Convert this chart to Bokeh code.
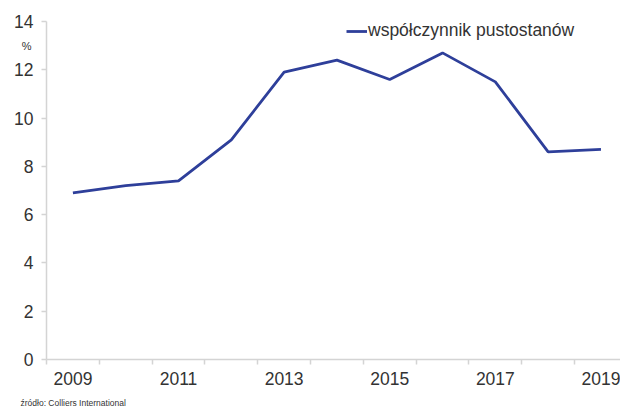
from bokeh.plotting import figure
from bokeh.models import FixedTicker, Range1d, Legend, LegendItem, Title, LinearAxis
from bokeh.embed import file_html
from bokeh.resources import INLINE

years = [2009, 2010, 2011, 2012, 2013, 2014, 2015, 2016, 2017, 2018, 2019]
vacancy = [6.9, 7.2, 7.4, 9.1, 11.9, 12.4, 11.6, 12.7, 11.5, 8.6, 8.7]
x_tick_labels = [2009, 2011, 2013, 2015, 2017, 2019]
y_ticks = [0, 2, 4, 6, 8, 10, 12, 14]
series_name = "współczynnik pustostanów"
unit_label = "%"
unit_label_at = 13
source_text = "źródło: Colliers International"

FONT = "Liberation Sans"
LINE_COLOR = "#2E3F9A"
AXIS_COLOR = "#D4D4D4"
TEXT_COLOR = "#333333"

X0, X1 = 2008.5, 2019.37
p = figure(width=620, height=410, output_backend="svg", toolbar_location=None,
           x_range=Range1d(X0, X1), y_range=Range1d(0, 14),
           min_border_left=46, min_border_right=0, min_border_top=21,
           min_border_bottom=51)
p.outline_line_color = None
p.xgrid.visible = False
p.ygrid.visible = False
p.background_fill_color = "white"
p.border_fill_color = "white"

r = p.line(years, vacancy, line_color=LINE_COLOR, line_width=2.8)

# x axis
xa = p.xaxis[0]
xa.ticker = FixedTicker(ticks=x_tick_labels,
                        minor_ticks=[y - 0.5 for y in years] + [years[-1] + 0.5])
xa.axis_line_color = AXIS_COLOR
xa.axis_line_width = 1.5
xa.major_tick_line_color = None
xa.major_tick_out = 0
xa.major_tick_in = 0
xa.minor_tick_line_color = AXIS_COLOR
xa.minor_tick_line_width = 1.5
xa.minor_tick_out = 5
xa.minor_tick_in = 0
xa.major_label_text_font = FONT
xa.major_label_text_font_size = "17.5px"
xa.major_label_text_color = TEXT_COLOR
xa.major_label_standoff = 7

# y axis
ya = p.yaxis[0]
ya.ticker = FixedTicker(ticks=y_ticks, minor_ticks=[])
ya.axis_line_color = AXIS_COLOR
ya.axis_line_width = 1.5
ya.major_tick_line_color = AXIS_COLOR
ya.major_tick_line_width = 1.5
ya.major_tick_out = 5
ya.major_tick_in = 0
ya.minor_tick_line_color = None
ya.major_label_text_font = FONT
ya.major_label_text_font_size = "17.5px"
ya.major_label_text_color = TEXT_COLOR
ya.major_label_standoff = 8

# unit label "%" as an extra, line-less axis just left of the value axis
ua = LinearAxis(ticker=FixedTicker(ticks=[unit_label_at], minor_ticks=[]),
                major_label_overrides={unit_label_at: unit_label},
                axis_line_color=None, major_tick_line_color=None,
                minor_tick_line_color=None, major_tick_out=0, major_tick_in=0,
                major_label_standoff=-20,
                major_label_text_font=FONT, major_label_text_font_size="11px",
                major_label_text_color=TEXT_COLOR)
p.add_layout(ua, "left")

legend = Legend(items=[LegendItem(label=series_name, renderers=[r])],
                location=(300, 318), orientation="vertical",
                border_line_color=None, background_fill_alpha=0,
                padding=0, margin=0, spacing=0,
                glyph_width=21, glyph_height=20, label_height=20,
                label_standoff=1,
                label_text_font=FONT, label_text_font_size="17.5px",
                label_text_color=TEXT_COLOR)
p.add_layout(legend, "center")

spacer = Title(text=" ", align="left", standoff=0,
               text_font=FONT, text_font_size="6px", text_font_style="normal",
               text_color="white")
p.add_layout(spacer, "below")
src = Title(text=source_text, align="left", offset=-26, standoff=0,
            text_font=FONT, text_font_size="8.5px", text_font_style="normal",
            text_color=TEXT_COLOR)
p.add_layout(src, "below")

open("out.html", "w").write(file_html(p, INLINE))
